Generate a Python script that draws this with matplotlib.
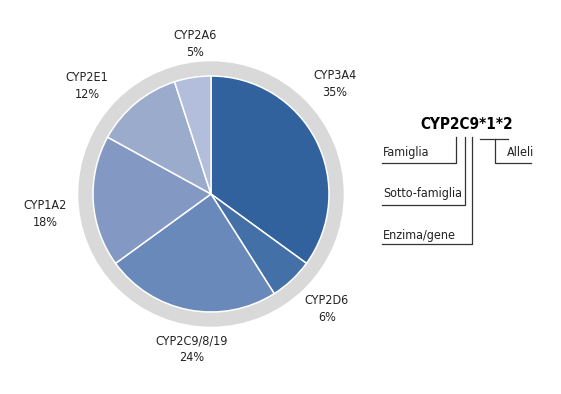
import matplotlib.pyplot as plt
from matplotlib.patches import Circle

plt.rcParams['font.family'] = ['DejaVu Sans']
plt.rcParams['font.stretch'] = 'condensed'

# Share of drug metabolism per CYP enzyme
enzymes = ['CYP3A4', 'CYP2D6', 'CYP2C9/8/19', 'CYP1A2', 'CYP2E1', 'CYP2A6']
shares = [35, 6, 24, 18, 12, 5]
colors = ['#31629e', '#4470a8', '#6a89bb', '#8399c4', '#9babcc', '#b2bedb']

# label anchor points (pixels)
label_pos = [(335, 84), (327, 309), (192, 349), (45, 214), (87, 86), (195, 44)]

fig = plt.figure(figsize=(5.61, 3.94), dpi=100)
ax = fig.add_axes([0, 0, 1, 1])

cx, cy = 211, 194
ax.add_patch(Circle((cx, cy), 132, color='#d9d9d9', zorder=0))
ax.pie(shares, colors=colors, startangle=-90, counterclock=True,
       center=(cx, cy), radius=118,
       wedgeprops=dict(edgecolor='white', linewidth=1.1))

for name, val, (x, y) in zip(enzymes, shares, label_pos):
    ax.text(x, y, f'{name}\n{val}%', ha='center', va='center', fontsize=9,
            linespacing=1.4, color='#222222')

# nomenclature diagram on the right
ax.text(467, 124, 'CYP2C9*1*2', ha='center', va='center', fontsize=11,
        fontweight='bold', color='black')
lc = '#333333'
lw = 0.9
ax.plot([456, 456, 382], [137, 163, 163], color=lc, lw=lw)
ax.plot([465, 465, 382], [137, 205, 205], color=lc, lw=lw)
ax.plot([472, 472, 382], [137, 244, 244], color=lc, lw=lw)
ax.plot([480, 508], [139, 139], color=lc, lw=lw)
ax.plot([495, 495, 531], [139, 163, 163], color=lc, lw=lw)

ax.text(383, 152, 'Famiglia', ha='left', va='center', fontsize=9, color='#222222')
ax.text(383, 193, 'Sotto-famiglia', ha='left', va='center', fontsize=9, color='#222222')
ax.text(383, 235, 'Enzima/gene', ha='left', va='center', fontsize=9, color='#222222')
ax.text(507, 152, 'Alleli', ha='left', va='center', fontsize=9, color='#222222')

ax.set_xlim(0, 561)
ax.set_ylim(394, 0)
ax.set_aspect('equal')
ax.axis('off')

fig.savefig('out.png', dpi=100, facecolor='white')
